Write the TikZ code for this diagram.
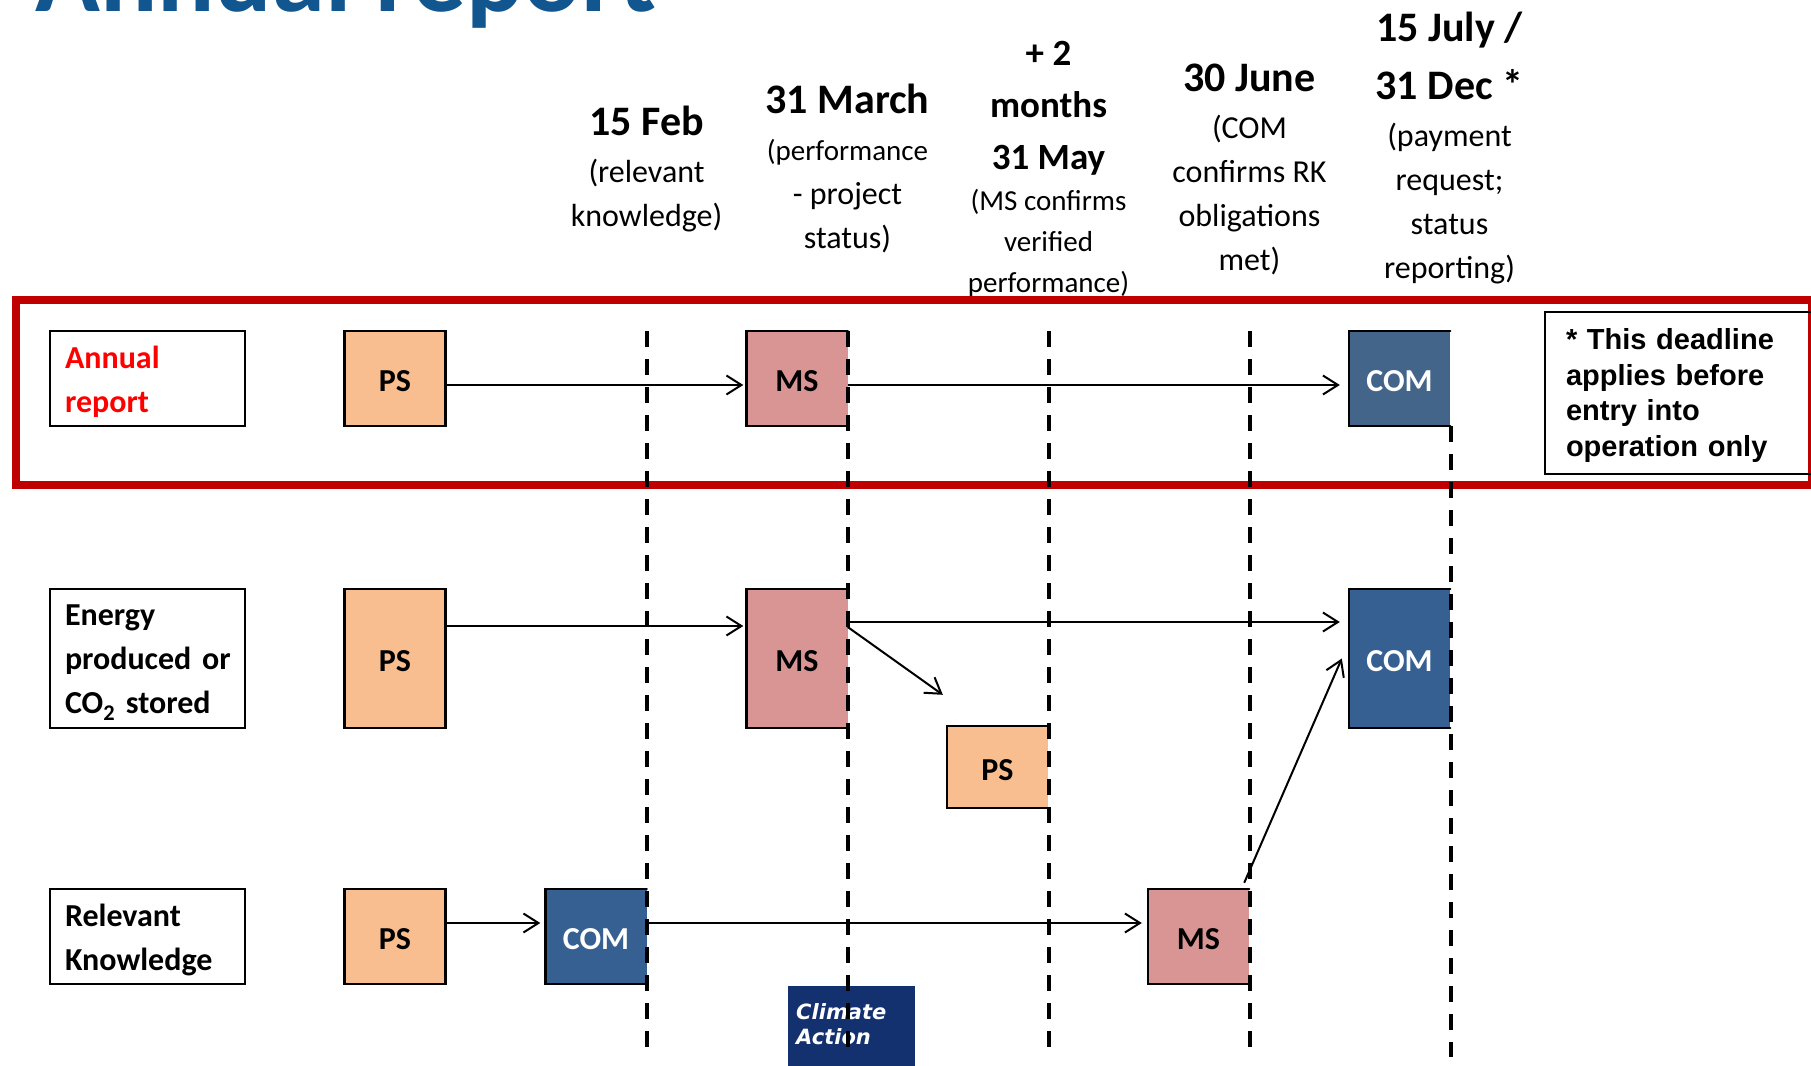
\documentclass[tikz,border=0pt]{standalone}
\usepackage{fontspec}
\setmainfont{Carlito}
\newfontfamily\noteFont{Liberation Sans}
\newfontfamily\climateFont{DejaVu Sans}
\usetikzlibrary{arrows.meta}
\definecolor{titleColor}{HTML}{11568F}
\definecolor{frameColor}{HTML}{C00000}
\definecolor{psColor}{HTML}{F9BE8F}
\definecolor{msColor}{HTML}{D99594}
\definecolor{comColor}{HTML}{376092}
\definecolor{comPale}{HTML}{44658A}
\definecolor{climateColor}{HTML}{13306F}
\tikzstyle{report} = [x = 1pt, y = -1pt]
\tikzstyle{headText} = [align=center, inner sep=0pt, anchor=base, font=\fontsize{42}{58}\selectfont\bfseries]
\tikzstyle{bodyText} = [align=center, inner sep=0pt, anchor=south, font=\fontsize{32}{44}\selectfont]
\tikzstyle{labelBox} = [draw, line width=2.5pt, minimum width=195pt, inner sep=0pt, text width=165pt, align=left, font=\fontsize{32}{44}\selectfont\bfseries, execute at begin node={\rule{0pt}{29pt}}]
\tikzstyle{stepBox} = [minimum width=101pt, inner sep=0pt, text height=26pt, text depth=0pt, font=\fontsize{32}{38}\selectfont\bfseries]
\tikzstyle{psStyle} = [stepBox, fill=psColor]
\tikzstyle{msStyle} = [stepBox, fill=msColor]
\tikzstyle{comStyle} = [stepBox, fill=comColor, text=white]
\tikzstyle{flowArrow} = [line width=2pt, -{Straight Barb[length=15pt, width=19pt]}, shorten >=6pt]
\tikzstyle{dashLine} = [line width=4pt, dash pattern=on 16pt off 12pt]
\tikzstyle{boxBorder} = [line width=2.5pt, line cap=round]
\newcommand{\closedBorder}[1]{\draw [boxBorder] (#1.north west) rectangle (#1.south east);}
\newcommand{\openBorder}[1]{\draw [boxBorder] (#1.north east) -- (#1.north west) -- (#1.south west) -- (#1.south east);}
\begin{document}
\begin{tikzpicture}[report]
  \useasboundingbox (0,0) rectangle (1811,1065);
  \node [anchor=base west, inner sep=0pt, text=titleColor, font=\fontsize{107}{110}\selectfont\bfseries] (titleText) at (35,12) {Annual report};
  % dates
  \node [headText] (dateFeb) at (646.5,135) {15 Feb};
  \node [bodyText] (textFeb) at (646.5,232) {(relevant\\knowledge)};
  \node [headText] (dateMarch) at (847.5,113) {31 March};
  \node [bodyText] (textMarch) at (847.5,253) {{\fontsize{29}{44}\selectfont(performance}\\- project\\status)};
  \node [headText, font=\fontsize{37}{52}\selectfont\bfseries] (dateMay) at (1048.5,169) {+ 2\\months\\31 May};
  \node [bodyText, font=\fontsize{29}{41}\selectfont] (textMay) at (1048.5,297) {(MS confirms\\verified\\performance)};
  \node [headText] (dateJune) at (1249.5,91) {30 June};
  \node [bodyText] (textJune) at (1249.5,275) {(COM\\confirms RK\\obligations\\met)};
  \node [headText] (dateDec) at (1449.5,99) {15 July /\\31 Dec *};
  \node [bodyText] (textDec) at (1449.5,284) {(payment\\request;\\status\\reporting)};
  % red frame
  \draw [frameColor, line width=8pt] (16,300) rectangle (1812,485);
  % row labels
  \node [labelBox, minimum height=95pt, text=red] (labelReport) at (147.5,378.5) {Annual\\report};
  \node [labelBox, minimum height=139pt] (labelEnergy) at (147.5,658.5) {Energy\\produced~or\\CO\textsubscript{2} stored};
  \node [labelBox, minimum height=95pt] (labelKnowledge) at (147.5,936.5) {Relevant\\Knowledge};
  \node [draw, line width=2pt, anchor=north west, minimum width=275pt, minimum height=162pt, inner sep=0pt, inner xsep=21pt, text width=233pt, align=left, font=\fontsize{29}{35.5}\selectfont\noteFont\bfseries, execute at begin node={\rule{0pt}{26pt}}] (noteBox) at (1544,311) {* This deadline\\applies before\\entry into\\operation only};
  % annual report
  \node [psStyle, minimum height=95pt] (psReport) at (395,378.5) {PS};
  \node [msStyle, minimum height=95pt] (msReport) at (797,378.5) {MS};
  \node [comStyle, minimum height=95pt, fill=comPale] (comReport) at (1399.5,378.5) {COM};
  \closedBorder{psReport}\openBorder{msReport}\openBorder{comReport}
  % energy
  \node [psStyle, minimum height=139pt] (psEnergy) at (395,658.5) {PS};
  \node [msStyle, minimum height=139pt] (msEnergy) at (797,658.5) {MS};
  \node [comStyle, minimum height=139pt] (comEnergy) at (1399.5,658.5) {COM};
  \node [psStyle, minimum height=82pt] (psVerify) at (997.5,767) {PS};
  \closedBorder{psEnergy}\openBorder{msEnergy}\openBorder{comEnergy}\openBorder{psVerify}
  % knowledge
  \node [psStyle, minimum height=95pt] (psKnowledge) at (395,936.5) {PS};
  \node [comStyle, minimum height=95pt] (comKnowledge) at (596,936.5) {COM};
  \node [msStyle, minimum height=95pt] (msKnowledge) at (1198.5,936.5) {MS};
  \closedBorder{psKnowledge}\openBorder{comKnowledge}\openBorder{msKnowledge}
  \node [fill=climateColor, anchor=north west, minimum width=127pt, minimum height=84pt, inner sep=0pt] (climateBox) at (788,986) {};
  \node [anchor=north west, inner sep=0pt, align=left, text=white, font=\fontsize{21}{25}\selectfont\climateFont\bfseries\itshape] (climateText) at ([shift={(8pt,-17pt)}]climateBox.north west) {Climate\\Action};
  % arrows
  \draw [flowArrow, shorten >=3pt] ([yshift=-6.5pt]psReport.east) -- ([yshift=-6.5pt]msReport.west);
  \draw [flowArrow, shorten >=9pt] ([yshift=-6.5pt]msReport.east) -- ([yshift=-6.5pt]comReport.west);
  \draw [flowArrow, shorten >=3pt] ([yshift=32.5pt]psEnergy.east) -- ([yshift=32.5pt]msEnergy.west);
  \draw [flowArrow, shorten >=9pt] ([yshift=36.5pt]msEnergy.east) -- ([yshift=36.5pt]comEnergy.west);
  \draw [flowArrow, shorten >=0pt] ([yshift=31.5pt]msEnergy.east) -- ([shift={(-4pt,31pt)}]psVerify.north west);
  \draw [flowArrow, shorten >=0pt] ([shift={(-5pt,6pt)}]msKnowledge.north east) -- ([xshift=-7pt]comEnergy.west);
  \draw [flowArrow, shorten >=5pt] ([yshift=13.5pt]psKnowledge.east) -- ([yshift=13.5pt]comKnowledge.west);
  \draw [flowArrow] ([yshift=13.5pt]comKnowledge.east) -- ([yshift=13.5pt]msKnowledge.west);
  % deadlines
  \foreach \deadline in {646.5,847.5,1048.5,1249.5} {
    \draw [dashLine] (\deadline,331) -- (\deadline,1049);
  }
  \draw [dashLine] (1450.5,426) -- (1450.5,1057);
\end{tikzpicture}
\end{document}
